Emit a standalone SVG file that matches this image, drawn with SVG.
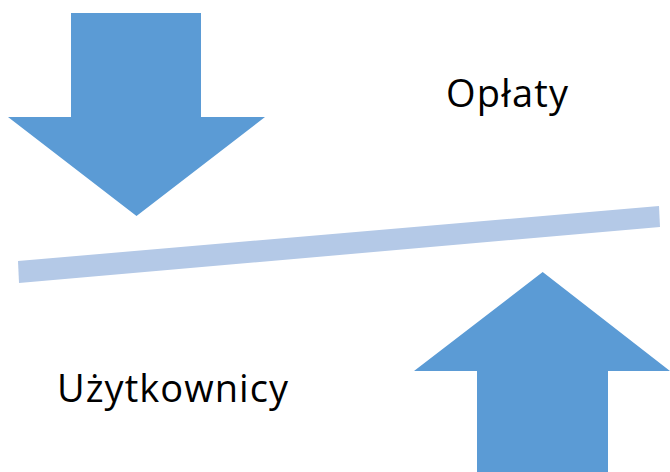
<svg xmlns="http://www.w3.org/2000/svg" width="670" height="472" viewBox="0 0 670 472">
<style>
.arrow{fill:#5B9BD5}
.beam{fill:#B4C9E7}
.lbl{font-family:"Open Sans","Liberation Sans",sans-serif;font-size:38px;fill:#000}
</style>
<rect width="670" height="472" fill="#fff"/>
<g id="beam"><polygon class="beam" points="18,261 19,283 660,227 659,206"/></g>
<g id="arrow-down"><polygon class="arrow" points="71,13 201,13 201,117 265,117 136.5,216 8,117 71,117"/></g>
<g id="arrow-up"><polygon class="arrow" points="542.7,272 670,371 608,371 608,472 477,472 477,371 414,371"/></g>
<g id="label-oplaty"><text class="lbl" x="446" y="107" textLength="122" lengthAdjust="spacing">Opłaty</text></g>
<g id="label-uzytkownicy"><text class="lbl" x="57" y="402" textLength="231" lengthAdjust="spacing">Użytkownicy</text></g>
<g id="connectors"/>
</svg>
